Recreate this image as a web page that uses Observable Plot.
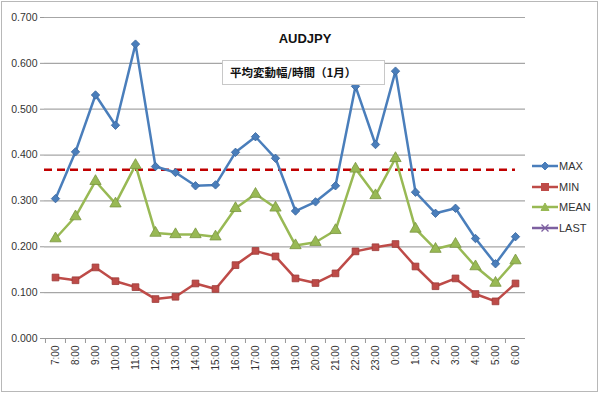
<!DOCTYPE html>
<html><head><meta charset="utf-8">
<script src="https://cdn.jsdelivr.net/npm/d3@7"></script>
<script src="https://cdn.jsdelivr.net/npm/@observablehq/plot@0.6"></script>
<style>
body{margin:0;background:#fff;}
#wrap{position:relative;width:600px;height:395px;overflow:hidden;font-family:"Liberation Sans",Arial,sans-serif;}
#frame{position:absolute;left:1px;top:1px;width:595px;height:389px;border:1px solid #b8b8b8;}
#title{position:absolute;left:0;width:610px;top:31px;text-align:center;font-weight:bold;font-size:13px;color:#111;}
#sub{position:absolute;left:222px;top:60px;width:163px;height:25px;border:1px solid #c8c8c8;box-sizing:border-box;font-family:"Noto Sans CJK JP",sans-serif;font-weight:bold;font-size:11.5px;line-height:23px;padding-left:7px;color:#111;background:#fff;}
#legend{position:absolute;left:532px;top:156px;}
.li{display:flex;align-items:center;height:20.5px;font-size:11px;color:#333;}
.li svg{margin-right:1px;}
</style></head>
<body><div id="wrap"><div id="frame"></div><div id="chart"></div><div id="title"></div><div id="sub"></div><div id="legend"></div></div>
<script>
const hours = ["7:00","8:00","9:00","10:00","11:00","12:00","13:00","14:00","15:00","16:00","17:00","18:00","19:00","20:00","21:00","22:00","23:00","0:00","1:00","2:00","3:00","4:00","5:00","6:00"];
const maxValues  = [0.305,0.407,0.531,0.465,0.642,0.375,0.362,0.333,0.335,0.406,0.440,0.393,0.278,0.298,0.333,0.550,0.423,0.583,0.319,0.273,0.284,0.218,0.163,0.222];
const minValues  = [0.133,0.127,0.155,0.125,0.112,0.086,0.091,0.120,0.108,0.160,0.191,0.179,0.131,0.121,0.142,0.190,0.199,0.206,0.157,0.114,0.131,0.097,0.081,0.120];
const meanValues = [0.218,0.266,0.343,0.294,0.378,0.230,0.227,0.227,0.222,0.284,0.315,0.285,0.203,0.210,0.236,0.370,0.312,0.393,0.239,0.195,0.206,0.157,0.121,0.170];
const lastValues = [];
const averageLine = 0.368;
const yTicks = [0,0.1,0.2,0.3,0.4,0.5,0.6,0.7];
const titleText = "AUDJPY";
const subtitleText = "平均変動幅/時間（1月）";
const seriesNames = ["MAX","MIN","MEAN","LAST"];

const styles = {
  MAX:{color:"#4a7ebb", edge:"#3a659a", symbol:"diamond2", r:3.8},
  MIN:{color:"#be4b48", edge:"#9c3b38", symbol:"square", r:3.8},
  MEAN:{color:"#98b954", edge:"#7a9640", symbol:"triangle", r:4.2},
  LAST:{color:"#7d60a0", edge:"#654d84", symbol:"times", r:3.5}
};
const seriesData = {MAX:maxValues, MIN:minValues, MEAN:meanValues, LAST:lastValues};
const rows = [];
for (const s of seriesNames) seriesData[s].forEach((v,i)=>rows.push({series:s, hour:hours[i], value:v}));

const W=600,H=395,ML=44,MR=75,MT=17,MB=57;
const bw=(W-ML-MR)/hours.length;

const marks = [
  Plot.gridY(yTicks,{stroke:"#a6a6a6",strokeOpacity:1,strokeWidth:1.2}),
  Plot.axisY({ticks:yTicks,tickFormat:d3.format(".3f"),tickSize:4,tickPadding:3,fontSize:10.5,color:"#333",label:null,stroke:"#999"}),
  Plot.axisX({tickSize:0,tickPadding:7,tickRotate:-90,fontSize:10,color:"#333",label:null}),
  Plot.axisX({tickSize:5,tickFormat:()=>"",dx:-bw/2,label:null,stroke:"#999"}),
  Plot.ruleY([0],{stroke:"#999"}),
  Plot.ruleY([averageLine],{stroke:"#c00000",strokeWidth:2.5,strokeDasharray:"8,5",insetRight:bw/2})
];
for (const s of ["MAX","MIN","MEAN"]) {
  const d = rows.filter(r=>r.series===s);
  marks.push(Plot.line(d,{x:"hour",y:"value",stroke:styles[s].color,strokeWidth:2.5}));
  marks.push(Plot.dot(d,{x:"hour",y:"value",symbol:styles[s].symbol,r:styles[s].r,fill:styles[s].color,stroke:styles[s].edge,strokeWidth:0.8}));
}

const chart = Plot.plot({
  width:W,height:H,marginLeft:ML,marginRight:MR,marginTop:MT,marginBottom:MB,
  style:{fontFamily:"'Liberation Sans',Arial,sans-serif",background:"transparent"},
  x:{type:"band",domain:hours,padding:0,axis:null},
  y:{domain:[0,0.7],axis:null},
  marks
});
document.getElementById("chart").append(chart);
document.getElementById("title").textContent = titleText;
document.getElementById("sub").textContent = subtitleText;

const shapes = {
  MAX:'<path d="M13,-4 L17,0 L13,4 L9,0Z" />',
  MIN:'<rect x="9.5" y="-3.5" width="7" height="7"/>',
  MEAN:'<path d="M13,-4 L17,3.5 L9,3.5Z"/>',
  LAST:'<path d="M9.5,-3.5 L16.5,3.5 M9.5,3.5 L16.5,-3.5" fill="none" stroke-width="1.3"/>'
};
const leg = document.getElementById("legend");
for (const s of seriesNames) {
  const c = styles[s].color;
  leg.insertAdjacentHTML("beforeend",
    `<div class="li"><svg width="26" height="10" viewBox="0 -5 26 10"><line x1="0" x2="26" y1="0" y2="0" stroke="${c}" stroke-width="2.5"/><g fill="${c}" stroke="${c}">${shapes[s]}</g></svg><span>${s}</span></div>`);
}
</script></body></html>
